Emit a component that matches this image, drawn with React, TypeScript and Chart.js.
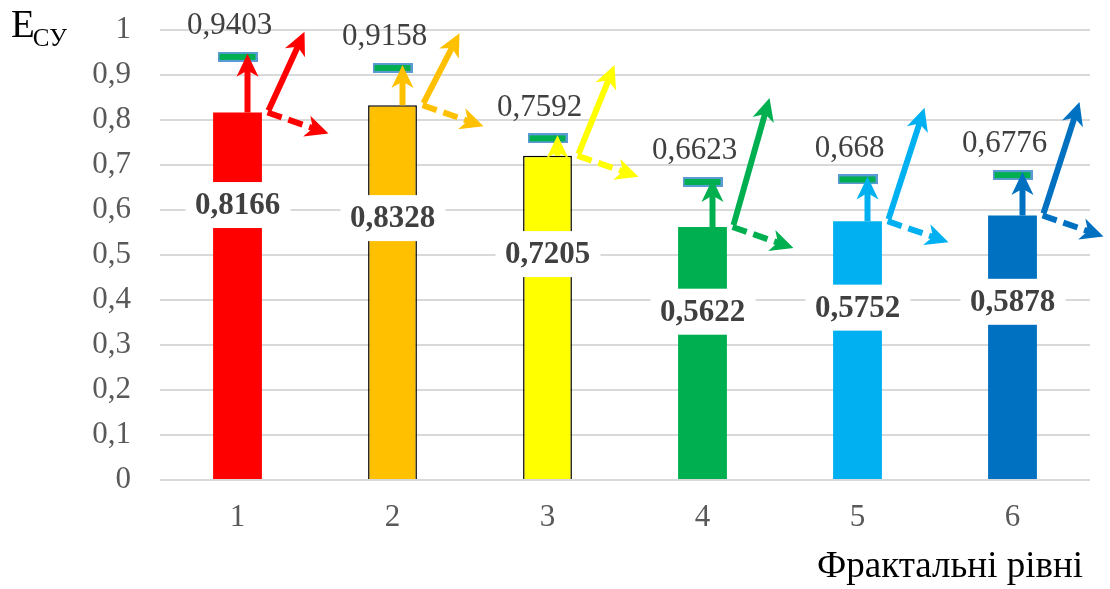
import React, { useEffect, useRef } from "react";
import { Chart, registerables } from "chart.js";

Chart.register(...registerables);

// ---- data ----
const categories = ["1", "2", "3", "4", "5", "6"];
const barValues = [0.8166, 0.8328, 0.7205, 0.5622, 0.5752, 0.5878];
const targetValues = [0.9403, 0.9158, 0.7592, 0.6623, 0.668, 0.6776];
const barColors = ["#FF0000", "#FFC000", "#FFFF00", "#00B050", "#00B0F0", "#0070C0"];
const barBorderColors = ["#FF0000", "#000000", "#000000", "#00B050", "#00B0F0", "#0070C0"];
const barBorderWidths = [0, 1.5, 1.5, 0, 0, 0];
// where the bold value label sits inside each bar (value units)
const barLabelAt = [0.611, 0.582, 0.502, 0.374, 0.383, 0.396];
// tip of the diagonal solid arrow (value units)
const arrowTipAt = [0.996, 0.993, 0.922, 0.849, 0.827, 0.84];
const yTitleMain = "E";
const yTitleSub = "СУ";
const xTitle = "Фрактальні рівні";

const SERIF = '"Liberation Serif", "Times New Roman", serif';

const fmt = (v: number) => String(v).replace(".", ",");

function makeMarker(): HTMLCanvasElement {
  const c = document.createElement("canvas");
  c.width = 40;
  c.height = 10;
  const g = c.getContext("2d")!;
  g.fillStyle = "#5B9BD5";
  g.fillRect(0, 0, 40, 10);
  g.fillStyle = "#00B050";
  g.fillRect(2, 2, 36, 6);
  return c;
}

function arrow(
  ctx: CanvasRenderingContext2D,
  x1: number,
  y1: number,
  x2: number,
  y2: number,
  color: string,
  dashed: boolean
) {
  const ang = Math.atan2(y2 - y1, x2 - x1);
  const dx = Math.cos(ang);
  const dy = Math.sin(ang);
  const px = -dy;
  const py = dx;
  const headLen = 23;
  const headW = 11;
  ctx.save();
  ctx.strokeStyle = color;
  ctx.fillStyle = color;
  ctx.lineWidth = 6;
  ctx.lineCap = "butt";
  ctx.setLineDash(dashed ? [15, 7] : []);
  ctx.beginPath();
  ctx.moveTo(x1, y1);
  ctx.lineTo(x2 - dx * headLen * 0.7, y2 - dy * headLen * 0.7);
  ctx.stroke();
  ctx.setLineDash([]);
  const bx = x2 - dx * headLen;
  const by = y2 - dy * headLen;
  ctx.beginPath();
  ctx.moveTo(x2, y2);
  ctx.lineTo(bx + px * headW, by + py * headW);
  ctx.lineTo(x2 - dx * headLen * 0.72, y2 - dy * headLen * 0.72);
  ctx.lineTo(bx - px * headW, by - py * headW);
  ctx.closePath();
  ctx.fill();
  ctx.restore();
}

const decorPlugin = {
  id: "decor",
  afterDatasetsDraw(chart: any) {
    const ctx: CanvasRenderingContext2D = chart.ctx;
    const xs = chart.scales.x;
    const ys = chart.scales.y;
    categories.forEach((_, i) => {
      const x = xs.getPixelForValue(i);
      const yTop = ys.getPixelForValue(barValues[i]);
      const yT = ys.getPixelForValue(targetValues[i]);
      const col = barColors[i];
      // arrows
      arrow(ctx, x + 10, yTop, x + 10, yT - 3, col, false);
      arrow(ctx, x + 31, yTop - 2, x + 67, ys.getPixelForValue(arrowTipAt[i]), col, false);
      arrow(ctx, x + 30, yTop, x + 91, yTop + 21, col, true);

      // bold bar label with white box
      const yl = ys.getPixelForValue(barLabelAt[i]);
      ctx.save();
      ctx.fillStyle = "#FFFFFF";
      ctx.fillRect(x - 52, yl - 23, 105, 46);
      ctx.font = `bold 31px ${SERIF}`;
      ctx.fillStyle = "#404040";
      ctx.textAlign = "center";
      ctx.textBaseline = "middle";
      ctx.fillText(fmt(barValues[i]), x, yl + 1);
      // target label
      ctx.font = `31px ${SERIF}`;
      ctx.fillStyle = "#404040";
      ctx.fillText(fmt(targetValues[i]), x - 8, yT - 31);
      ctx.restore();
    });
  },
  afterDraw(chart: any) {
    const ctx: CanvasRenderingContext2D = chart.ctx;
    ctx.save();
    ctx.fillStyle = "#000000";
    ctx.textBaseline = "alphabetic";
    ctx.textAlign = "left";
    ctx.font = `39px ${SERIF}`;
    ctx.fillText(yTitleMain, 11, 37);
    const w = ctx.measureText(yTitleMain).width;
    ctx.font = `25px ${SERIF}`;
    ctx.fillText(yTitleSub, 11 + w - 2, 46);
    ctx.font = `37px ${SERIF}`;
    ctx.textAlign = "right";
    ctx.fillText(xTitle, 1083, 577);
    ctx.restore();
  },
};

export default function App() {
  const ref = useRef<HTMLCanvasElement>(null);
  useEffect(() => {
    document.body.style.margin = "0";
    const chart = new Chart(ref.current!, {
      type: "bar",
      data: {
        labels: categories,
        datasets: [
          {
            type: "bar",
            data: barValues,
            backgroundColor: barColors,
            borderColor: barBorderColors,
            borderWidth: barBorderWidths,
            categoryPercentage: 1,
            barPercentage: 0.315,
          } as any,
          {
            type: "line",
            data: targetValues,
            showLine: false,
            pointStyle: makeMarker(),
            pointRadius: 20,
            borderWidth: 0,
          } as any,
        ],
      },
      options: {
        responsive: false,
        animation: false,
        devicePixelRatio: 1,
        layout: { padding: { top: 30, right: 16, bottom: 0, left: 0 } },
        plugins: {
          legend: { display: false },
          tooltip: { enabled: false },
        },
        scales: {
          x: {
            grid: { display: false },
            border: { display: false },
            ticks: {
              color: "#595959",
              font: { family: SERIF, size: 31 },
              padding: 11,
            },
            afterFit: (s: any) => {
              s.height = 109;
              s.paddingLeft = 0;
              s.paddingRight = 0;
            },
          },
          y: {
            min: 0,
            max: 1,
            grid: { color: "#D9D9D9", lineWidth: 2, drawTicks: false },
            border: { display: false },
            ticks: {
              stepSize: 0.1,
              color: "#595959",
              font: { family: SERIF, size: 31 },
              padding: 29,
              callback: (v: any) => fmt(Number(Number(v).toFixed(1))),
            },
            afterFit: (s: any) => {
              s.width = 160;
              s.paddingTop = 0;
              s.paddingBottom = 0;
            },
          },
        },
      },
      plugins: [decorPlugin],
    });
    return () => chart.destroy();
  }, []);
  return (
    <div style={{ width: 1110, height: 589, background: "#fff" }}>
      <canvas ref={ref} width={1110} height={589} style={{ display: "block" }} />
    </div>
  );
}
